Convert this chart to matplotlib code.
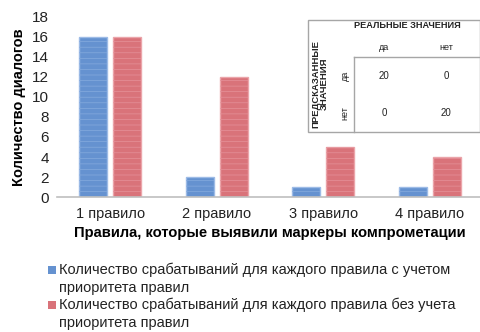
import matplotlib
matplotlib.use("Agg")
import matplotlib.pyplot as plt
from matplotlib.patches import Rectangle
from matplotlib.lines import Line2D
import numpy as np

plt.rcParams['font.family'] = ['Liberation Sans', 'DejaVu Sans']
plt.rcParams['hatch.linewidth'] = 0.5

categories = ["1 правило", "2 правило", "3 правило", "4 правило"]
with_priority = [16, 2, 1, 1]
without_priority = [16, 12, 5, 4]
series_labels = [
    "Количество срабатываний для каждого правила с учетом\nприоритета правил",
    "Количество срабатываний для каждого правила без учета\nприоритета правил",
]
y_ticks = [0, 2, 4, 6, 8, 10, 12, 14, 16, 18]

# confusion matrix shown in the inset
matrix_title_cols = "РЕАЛЬНЫЕ ЗНАЧЕНИЯ"
matrix_title_rows = "ПРЕДСКАЗАННЫЕ\nЗНАЧЕНИЯ"
matrix_classes = ["да", "нет"]
matrix_values = [[20, 0], [0, 20]]

W, H = 481, 332
fig = plt.figure(figsize=(W / 100, H / 100), dpi=100)


def fx(px):
    return px / W


def fy(py):
    return 1 - py / H


ax = fig.add_axes([fx(57), fy(197), fx(483) - fx(57), fy(17) - fy(197)])

blue = "#6592d0"
red = "#d9737a"
blue_edge = "#9dbbe6"
red_edge = "#eba5aa"

x = np.arange(len(categories))
width = 0.26
offset = 0.159
b1 = ax.bar(x - offset, with_priority, width, color=blue, edgecolor=blue_edge, linewidth=1.0)
b2 = ax.bar(x + offset, without_priority, width, color=red, edgecolor=red_edge, linewidth=1.0)
# faint horizontal striping over the bars
ax.bar(x - offset, with_priority, width, fill=False, edgecolor="#86abde",
       linewidth=0, hatch="---")
ax.bar(x + offset, without_priority, width, fill=False, edgecolor="#e5929a",
       linewidth=0, hatch="---")

ax.set_xlim(-0.5, len(categories) - 0.5)
ax.set_ylim(0, 18)
ax.set_yticks(y_ticks)
ax.set_yticklabels([str(v) for v in y_ticks], fontsize=11, color="#222222")
ax.set_xticks(x)
ax.set_xticklabels(categories, fontsize=10.5, color="#222222")
ax.tick_params(axis="both", length=0)
ax.tick_params(axis="x", pad=7)
ax.tick_params(axis="y", pad=6)
for s in ["left", "right", "top"]:
    ax.spines[s].set_visible(False)
ax.spines["bottom"].set_color("#bfbfbf")
ax.spines["bottom"].set_linewidth(1.2)

ax.set_ylabel("Количество диалогов", fontsize=10.5, fontweight="bold", labelpad=4)
ax.set_xlabel("Правила, которые выявили маркеры компрометации", fontsize=10.6,
              fontweight="bold", labelpad=4)

# legend below the chart: square marker aligned with the first text line
legend_colors = [b1.patches[0].get_facecolor(), b2.patches[0].get_facecolor()]
entry_top = [263, 298]
for label, color, top in zip(series_labels, legend_colors, entry_top):
    fig.add_artist(Rectangle((fx(48), fy(top + 11)), fx(8), fx(8) * W / H,
                             transform=fig.transFigure, facecolor=color,
                             edgecolor="none"))
    fig.text(fx(59), fy(top), label, fontsize=10.5, va="top", ha="left",
             linespacing=1.32, color="#222222")

# inset confusion matrix
grey = "#a6a6a6"
fig.add_artist(Rectangle((fx(308), fy(132)), fx(480) - fx(308), fy(20) - fy(132),
                         transform=fig.transFigure, fill=True, facecolor="white",
                         edgecolor=grey, linewidth=1.0))
fig.add_artist(Line2D([fx(354), fx(480)], [fy(57), fy(57)], transform=fig.transFigure,
                      color=grey, linewidth=1.0))
fig.add_artist(Line2D([fx(354), fx(354)], [fy(57), fy(132)], transform=fig.transFigure,
                      color=grey, linewidth=1.0))

txt = "#222222"
fig.text(fx(407), fy(25), matrix_title_cols, fontsize=6.6, fontweight="bold",
         ha="center", va="center", color=txt)
fig.text(fx(320), fy(84), matrix_title_rows, fontsize=6.8, fontweight="bold",
         ha="center", va="center", rotation=90, color=txt, linespacing=0.95)
col_x = [384, 446]
row_y = [76, 113]
for j, name in enumerate(matrix_classes):
    fig.text(fx(col_x[j]), fy(47), name, fontsize=6.5, ha="center", va="center", color=txt)
for i, name in enumerate(matrix_classes):
    fig.text(fx(345), fy(row_y[i]), name, fontsize=6.5, ha="center", va="center",
             rotation=90, color=txt)
    for j in range(len(matrix_classes)):
        fig.text(fx(col_x[j]), fy(row_y[i]), str(matrix_values[i][j]), fontsize=7,
                 ha="center", va="center", color=txt)

fig.savefig("out.png", dpi=100)
